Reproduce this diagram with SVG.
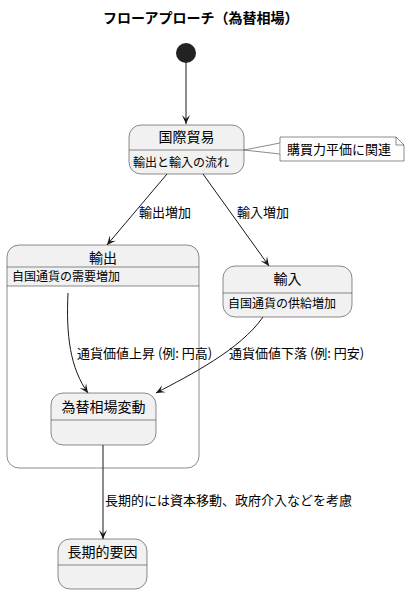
<svg xmlns="http://www.w3.org/2000/svg" width="410" height="594" viewBox="0 0 410 594">
<defs>
<style>
text{font-family:"Noto Sans CJK JP","Noto Sans",sans-serif;fill:#000}
.ttl{font-size:14px;font-weight:bold}
.nt{font-size:14px;text-anchor:middle}
.bd{font-size:12px}
.nb{font-size:13px}
.lb{font-size:13px}
.box{fill:#F1F1F1;stroke:#181818;stroke-width:0.5}
.sep{stroke:#181818;stroke-width:0.5}
.edge{fill:none;stroke:#181818;stroke-width:1;marker-end:url(#arr)}
</style>
<marker id="arr" viewBox="-10 -5 11 10" refX="0" refY="0" markerWidth="11" markerHeight="10" orient="auto" markerUnits="userSpaceOnUse">
<path d="M0,0 L-9,-4 L-5,0 L-9,4 Z" fill="#181818"/>
</marker>
</defs>
<rect width="410" height="594" fill="#FFFFFF"/>
<text class="ttl" x="103" y="23">フローアプローチ（為替相場）</text>

<g id="start"><circle cx="186" cy="53" r="10" fill="#222222"/></g>

<g id="kokusai">
<rect class="box" x="129" y="125" width="115" height="49" rx="12"/>
<line class="sep" x1="129" y1="150" x2="244" y2="150"/>
<text class="nt" x="186.5" y="142">国際貿易</text>
<text class="bd" x="133" y="167">輸出と輸入の流れ</text>
</g>

<g id="note">
<path d="M244,150 L280,143 L280,154 Z" fill="#FEFEFE" stroke="#181818" stroke-width="0.5"/>
<path d="M280,137 H396 L404,145 V161 H280 Z" fill="#FEFEFE" stroke="#181818" stroke-width="0.5"/>
<path d="M396,137 V145 H404" fill="none" stroke="#181818" stroke-width="0.5"/>
<line x1="280" y1="143" x2="280" y2="154" stroke="#FEFEFE" stroke-width="0.8"/>
<text class="nb" x="287" y="154">購買力平価に関連</text>
</g>

<g id="yushutsu">
<rect x="7" y="245" width="192" height="223" rx="12" fill="#FFFFFF" stroke="none"/>
<path d="M7,286 V257 Q7,245 19,245 H187 Q199,245 199,257 V286 Z" fill="#F1F1F1"/>
<line class="sep" x1="7" y1="267" x2="199" y2="267"/>
<line class="sep" x1="7" y1="286" x2="199" y2="286"/>
<rect x="7" y="245" width="192" height="223" rx="12" fill="none" stroke="#181818" stroke-width="0.5"/>
<text class="nt" x="103" y="263">輸出</text>
<text class="bd" x="12" y="281">自国通貨の需要増加</text>
</g>

<g id="yunyu">
<rect class="box" x="223" y="266" width="129" height="51" rx="12"/>
<line class="sep" x1="223" y1="293" x2="352" y2="293"/>
<text class="nt" x="287.5" y="284">輸入</text>
<text class="bd" x="228" y="308">自国通貨の供給増加</text>
</g>

<g id="kawase">
<rect class="box" x="51" y="393" width="105" height="52" rx="12"/>
<line class="sep" x1="51" y1="420" x2="156" y2="420"/>
<text class="nt" x="103.5" y="412">為替相場変動</text>
</g>

<g id="choki">
<rect class="box" x="58" y="539" width="89" height="50" rx="12"/>
<line class="sep" x1="58" y1="565" x2="147" y2="565"/>
<text class="nt" x="102.5" y="557">長期的要因</text>
</g>

<g id="connectors">
<path class="edge" d="M186,63 L186,124"/>
<path class="edge" d="M167,174 L107,245"/>
<text class="lb" x="139" y="217">輸出増加</text>
<path class="edge" d="M203,174 L269,266"/>
<text class="lb" x="237" y="217">輸入増加</text>
<path class="edge" d="M68,293 C66,335 70,368 88,393"/>
<text class="lb" x="77" y="358">通貨価値上昇 (例: 円高)</text>
<path class="edge" d="M263,317 C240,350 190,375 156,393"/>
<text class="lb" x="229" y="358">通貨価値下落 (例: 円安)</text>
<path class="edge" d="M103,445 L103,539"/>
<text class="lb" x="105" y="505">長期的には資本移動、政府介入などを考慮</text>
</g>
</svg>
